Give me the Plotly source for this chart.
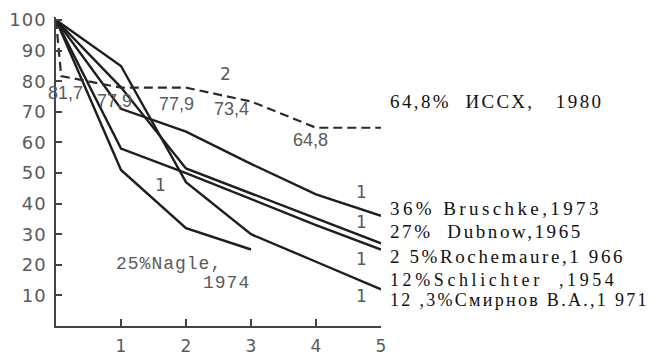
import plotly.graph_objects as go

# ---- data ----
x_months = [0, 1, 2, 3, 4, 5]
x_tick_vals = [1, 2, 3, 4, 5]
y_tick_vals = [10, 20, 30, 40, 50, 60, 70, 80, 90, 100]
y_tick_text = ["10", "20", "30", "40", "50", "60", "70", "80", "90", "100"]

issx_x = [0, 0.08, 1, 2, 3, 4, 5]
issx_y = [100, 81.7, 77.9, 77.9, 73.4, 64.8, 64.8]
issx_point_labels = ["81,7", "77,9", "77,9", "73,4", "64,8"]

bruschke_y = [100, 71, 63.5, 53, 43, 36]
dubnow_y = [100, 78, 51.5, 43.3, 35.2, 27]
rochemaure_y = [100, 58, 50, 41.5, 33, 25]
schlichter_y = [100, 85, 47, 30, 21, 12]
nagle_x = [0, 1, 2, 3]
nagle_y = [100, 51, 32, 25]

right_labels = [
    "64,8%  ИССХ,   1980",
    "36% Bruschke,1973",
    "27%  Dubnow,1965",
    "2 5%Rochemaure,1 966",
    "12%Schlichter  ,1954",
    "12 ,3%Смирнов В.А.,1 971",
]
right_label_y = [73.4, 38.3, 30.8, 22.7, 14.9, 8.4]

curve_marks = ["1", "1", "1", "1", "1", "2"]
curve_mark_x = [1.6, 4.7, 4.7, 4.7, 4.7, 2.6]
curve_mark_y = [46, 43.8, 34, 21.8, 9.7, 82.5]

nagle_text = ["25%Nagle,", "1974"]

# ---- styles ----
gray = "#5a5a5a"
label_spacing = [2.4, 3.4, 2.6, 2.6, 3.6, 2.3]
label_size = [19, 19, 19, 19, 18, 18]


def spaced(t, px):
    return "<span style='letter-spacing:%spx'>%s</span>" % (px, t)


# ---- figure ----
fig = go.Figure()
solid = dict(color="#1e1e1e", width=2.4)
for ys in [bruschke_y, dubnow_y, rochemaure_y, schlichter_y]:
    fig.add_trace(go.Scatter(x=x_months, y=ys, mode="lines", line=solid,
                             showlegend=False, hoverinfo="skip"))
fig.add_trace(go.Scatter(x=nagle_x, y=nagle_y, mode="lines", line=solid,
                         showlegend=False, hoverinfo="skip"))
fig.add_trace(go.Scatter(x=issx_x, y=issx_y, mode="lines",
                         line=dict(color="#2a2a2a", width=2.2, dash="9px,5px"),
                         showlegend=False, hoverinfo="skip"))

# labels under the dashed line
lab_x = [0.14, 0.9, 1.86, 2.7, 3.91]
lab_y = [76.3, 73.7, 72.7, 70.8, 60.7]
for t, lx, ly in zip(issx_point_labels, lab_x, lab_y):
    fig.add_annotation(x=lx, y=ly, text=t, showarrow=False,
                       font=dict(family="Liberation Sans", size=18, color=gray))

for t, cx, cy in zip(curve_marks, curve_mark_x, curve_mark_y):
    fig.add_annotation(x=cx, y=cy, text=t, showarrow=False,
                       font=dict(family="DejaVu Sans", size=17, color=gray))

fig.add_annotation(x=1.74, y=20.2, text=spaced(nagle_text[0], 1), showarrow=False,
                   font=dict(family="Liberation Mono", size=18, color=gray))
fig.add_annotation(x=3.02, y=14.2, text=spaced(nagle_text[1], 1), showarrow=False,
                   xanchor="right",
                   font=dict(family="Liberation Mono", size=18, color=gray))

for t, ly, sp, sz in zip(right_labels, right_label_y, label_spacing, label_size):
    fig.add_annotation(x=1.0215, xref="paper", y=ly, yref="y", text=spaced(t, sp),
                       showarrow=False, xanchor="left",
                       font=dict(family="Liberation Serif", size=sz, color="#111"))

# the page body adds an 8px margin, so the margins are set 8px smaller
fig.update_layout(
    width=660, height=355, autosize=False,
    margin=dict(l=48, r=287, t=9, b=37),
    plot_bgcolor="white", paper_bgcolor="white",
    xaxis=dict(range=[0, 5], showgrid=False, zeroline=False, showline=True,
               automargin=False, ticklabeloverflow="allow",
               linecolor="#444", linewidth=1.5, ticks="inside", ticklen=7,
               tickcolor="#444", tickwidth=1.5, tickvals=x_tick_vals,
               tickfont=dict(family="DejaVu Sans", size=17, color=gray),
               ticklabelstandoff=4),
    yaxis=dict(range=[0, 101], showgrid=False, zeroline=False, showline=True,
               automargin=False, ticklabeloverflow="allow",
               linecolor="#444", linewidth=1.5, ticks="inside", ticklen=6,
               tickcolor="#444", tickwidth=1.5, tickvals=y_tick_vals,
               ticktext=[spaced(t, 1) for t in y_tick_text],
               tickfont=dict(family="DejaVu Sans", size=18, color=gray),
               ticklabelstandoff=4),
)

fig.write_html("out.html")
